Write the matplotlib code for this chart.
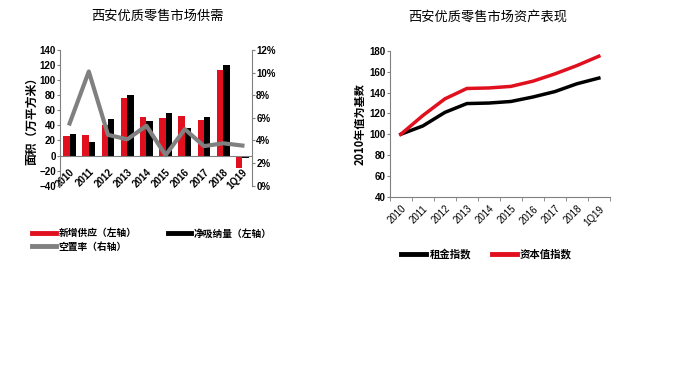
import matplotlib.pyplot as plt
import numpy as np
from matplotlib.lines import Line2D

plt.rcParams['font.family'] = ['Liberation Sans', 'Noto Sans CJK SC', 'DejaVu Sans']
plt.rcParams['font.weight'] = 'bold'

years = ["2010", "2011", "2012", "2013", "2014", "2015", "2016", "2017", "2018", "1Q19"]
new_supply = [26, 27.5, 40, 76, 50.5, 49.5, 53, 46.5, 113, -16.5]
net_absorption = [29, 18, 48, 80.5, 46, 57, 36, 51, 119.5, -3]
vacancy = [5.5, 10.1, 4.5, 4.1, 5.3, 2.7, 5.0, 3.5, 3.75, 3.55]
rent_index = [100, 108, 121, 129.5, 130, 131.5, 135.8, 141, 148.5, 154]
capital_index = [100, 118, 134, 144, 144.5, 146, 151, 158, 166, 175]

RED = "#E0101E"
GRAY = "#808080"
CJK = ['Noto Sans CJK SC', 'Liberation Sans']

fig = plt.figure(figsize=(6.78, 3.66), dpi=100)

# left: supply / absorption / vacancy
ax = fig.add_axes([0.0885, 0.4926, 0.2832, 0.3708])
x = np.arange(len(years))
w = 0.33
ax.bar(x - w / 2, new_supply, w, color=RED)
ax.bar(x + w / 2, net_absorption, w, color="black")
ax.set_xlim(-0.5, len(years) - 0.5)
ax.set_ylim(-40, 140)
ax.set_yticks(range(-40, 141, 20))
ax.spines['bottom'].set_position(('data', 0))
ax.spines['top'].set_visible(False)
ax.spines['right'].set_visible(False)
for s in ('left', 'bottom'):
    ax.spines[s].set_color(GRAY)
ax.set_xticks(x)
ax.set_xticklabels(years, rotation=45, ha='right', va='top', rotation_mode='anchor')
ax.tick_params(axis='x', length=0, pad=8, labelsize=7)
ax.tick_params(axis='y', labelsize=7, length=2, color=GRAY, pad=1)
ax.set_ylabel("面积（万平方米）", family=CJK, fontsize=8.5, fontweight='bold', labelpad=1)

ax2 = ax.twinx()
ax2.plot(x, vacancy, color=GRAY, lw=3)
ax2.set_ylim(0, 12)
ax2.set_yticks(range(0, 13, 2))
ax2.set_yticklabels([f"{v}%" for v in range(0, 13, 2)])
ax2.tick_params(axis='y', labelsize=7, length=2, color=GRAY, pad=1)
for s in ('top', 'left', 'bottom'):
    ax2.spines[s].set_visible(False)
ax2.spines['right'].set_color(GRAY)

fig.text(0.233, 0.945, "西安优质零售市场供需", family=CJK, fontsize=9.5,
         fontweight='normal', ha='center')

handles = [Line2D([], [], color=RED, lw=3.5), Line2D([], [], color=GRAY, lw=3.5),
           Line2D([], [], color="black", lw=3.5)]
fig.legend(handles, ["新增供应（左轴）", "空置率（右轴）", "净吸纳量（左轴）"],
           loc='upper left', bbox_to_anchor=(0.035, 0.4), ncol=2, frameon=False,
           prop={'family': CJK, 'size': 7, 'weight': 'bold'}, handlelength=2.4,
           handletextpad=0.3, columnspacing=3.2, labelspacing=0.35)

# right: asset performance
bx = fig.add_axes([0.575, 0.4626, 0.3245, 0.398])
bx.plot(x, rent_index, color="black", lw=2.5)
bx.plot(x, capital_index, color=RED, lw=2.5)
bx.set_xlim(-0.5, len(years) - 0.5)
bx.set_ylim(40, 180)
bx.set_yticks(range(40, 181, 20))
bx.spines['top'].set_visible(False)
bx.spines['right'].set_visible(False)
for s in ('left', 'bottom'):
    bx.spines[s].set_color(GRAY)
bx.set_xticks(x)
bx.set_xticklabels(years, rotation=45, ha='right', rotation_mode='anchor', fontweight='normal')
bx.set_xticks(np.arange(-0.5, len(years)), minor=True)
bx.tick_params(axis='x', which='major', length=0, labelsize=7, pad=5)
bx.tick_params(axis='x', which='minor', length=3, color=GRAY)
bx.tick_params(axis='y', labelsize=7, length=2, color=GRAY, pad=1)
bx.set_ylabel("2010年值为基数", family=CJK, fontsize=8, fontweight='bold', labelpad=2)

fig.text(0.72, 0.945, "西安优质零售市场资产表现", family=CJK, fontsize=9.5,
         fontweight='normal', ha='center')

handles2 = [Line2D([], [], color="black", lw=3.5), Line2D([], [], color=RED, lw=3.5)]
fig.legend(handles2, ["租金指数", "资本值指数"], loc='upper left',
           bbox_to_anchor=(0.578, 0.345), ncol=2, frameon=False,
           prop={'family': CJK, 'size': 7.5, 'weight': 'bold'}, handlelength=2.4,
           handletextpad=0.3, columnspacing=2.0)

fig.savefig("out.png", dpi=100)
